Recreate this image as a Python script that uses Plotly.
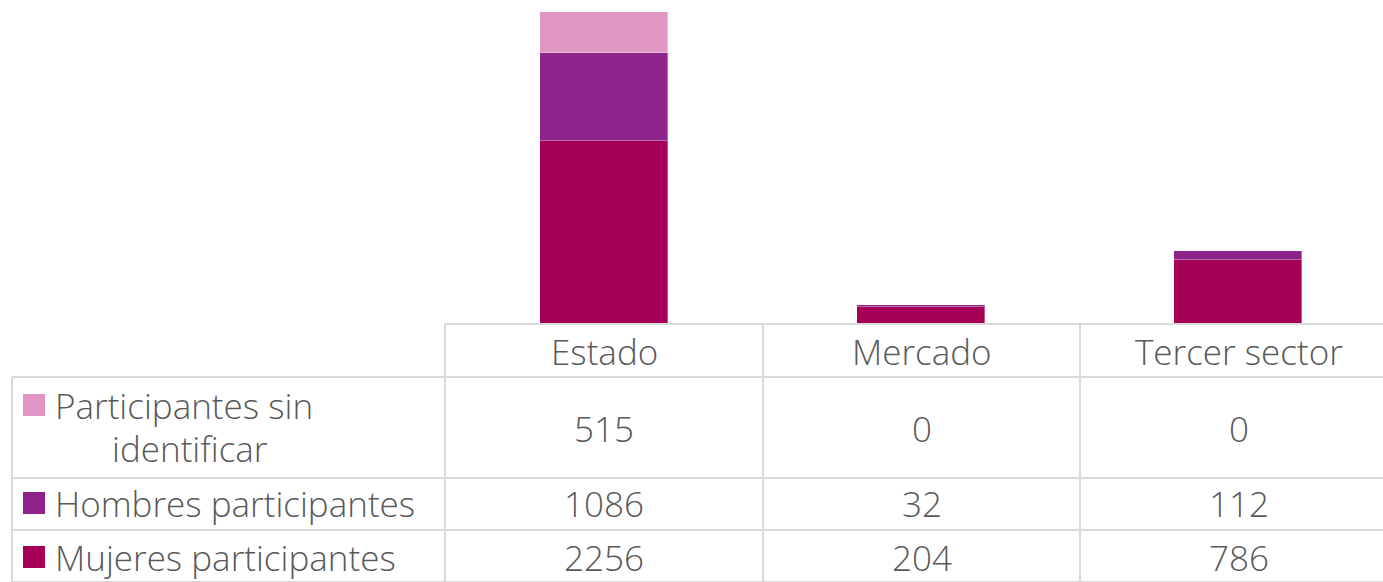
import plotly.graph_objects as go

categories = ["Estado", "Mercado", "Tercer sector"]
series_names = ["Participantes sin identificar", "Hombres participantes", "Mujeres participantes"]
sin_identificar = [515, 0, 0]
hombres = [1086, 32, 112]
mujeres = [2256, 204, 786]

colors = {
    "Mujeres participantes": "#A50055",
    "Hombres participantes": "#8E238B",
    "Participantes sin identificar": "#DF96C3",
}

W, H = 1383, 582
FONT = "Open Sans"
FW = 300
FS = 35
TXT = "#595959"
GRID = "#D9D9D9"


def px(x):
    return x / W


def py(y):
    return 1 - y / H


def label(text, x, y, anchor="center"):
    return dict(text=text, x=px(x), y=py(y), xref="paper", yref="paper",
                showarrow=False, xanchor=anchor, yanchor="middle",
                font=dict(family=FONT, size=FS, color=TXT, weight=FW))


fig = go.Figure()

# stacked bars, bottom to top
for name, vals in [("Mujeres participantes", mujeres),
                   ("Hombres participantes", hombres),
                   ("Participantes sin identificar", sin_identificar)]:
    fig.add_trace(go.Bar(
        x=categories, y=vals, name=name,
        marker=dict(color=colors[name], line=dict(color="rgba(255,255,255,0.35)", width=1)),
        width=0.403,
    ))

# data table geometry (pixels); the last column runs past the right edge
col_edges = [445, 763, 1080, 1397]
row_edges = [324, 377, 478, 530, 582]
label_left = 12
col_w = (col_edges[-1] - col_edges[0]) / 3

shapes = []
for x in col_edges[:-1]:
    shapes.append(dict(type="line", xref="paper", yref="paper",
                       x0=px(x), x1=px(x), y0=py(row_edges[0]), y1=py(row_edges[-1]),
                       line=dict(color=GRID, width=2)))
shapes.append(dict(type="line", xref="paper", yref="paper",
                   x0=px(label_left), x1=px(label_left), y0=py(row_edges[1]), y1=py(row_edges[-1]),
                   line=dict(color=GRID, width=2)))
for j, y in enumerate(row_edges):
    x0 = col_edges[0] if j == 0 else label_left
    shapes.append(dict(type="line", xref="paper", yref="paper",
                       x0=px(x0), x1=1, y0=py(y), y1=py(y),
                       line=dict(color=GRID, width=2)))

annotations = []
centers = [(col_edges[i] + col_edges[i + 1]) / 2 for i in range(3)]
for c, cat in zip(centers, categories):
    annotations.append(label(cat, c, 351))

rows = [("Participantes sin identificar", sin_identificar, 428),
        ("Hombres participantes", hombres, 503),
        ("Mujeres participantes", mujeres, 557)]
for name, vals, yc in rows:
    for c, v in zip(centers, vals):
        annotations.append(label(str(v), c, yc))
    ky = yc if name != "Participantes sin identificar" else 405
    shapes.append(dict(type="rect", xref="paper", yref="paper",
                       x0=px(23), x1=px(45), y0=py(ky - 11), y1=py(ky + 11),
                       fillcolor=colors[name], line=dict(width=0)))
    if name == "Participantes sin identificar":
        annotations.append(label("Participantes sin", 53, 405, "left"))
        annotations.append(label("identificar", 190, 448))
    else:
        annotations.append(label(name, 53, yc, "left"))

fig.update_layout(
    width=W, height=H,
    margin=dict(l=0, r=0, t=0, b=0),
    barmode="stack",
    showlegend=False,
    plot_bgcolor="white",
    paper_bgcolor="white",
    xaxis=dict(domain=[px(col_edges[0]), 1],
               range=[-0.5, -0.5 + (W - col_edges[0]) / col_w],
               showticklabels=False, showgrid=False,
               zeroline=False, showline=False, ticks=""),
    yaxis=dict(domain=[py(row_edges[0]), 1], range=[0, 4000], showticklabels=False,
               showgrid=False, zeroline=False, showline=False),
    shapes=shapes,
    annotations=annotations,
    bargap=0,
)

fig.write_html("out.html", config={"displayModeBar": False},
               post_script="document.body.style.margin='0';document.body.style.overflow='hidden';")
